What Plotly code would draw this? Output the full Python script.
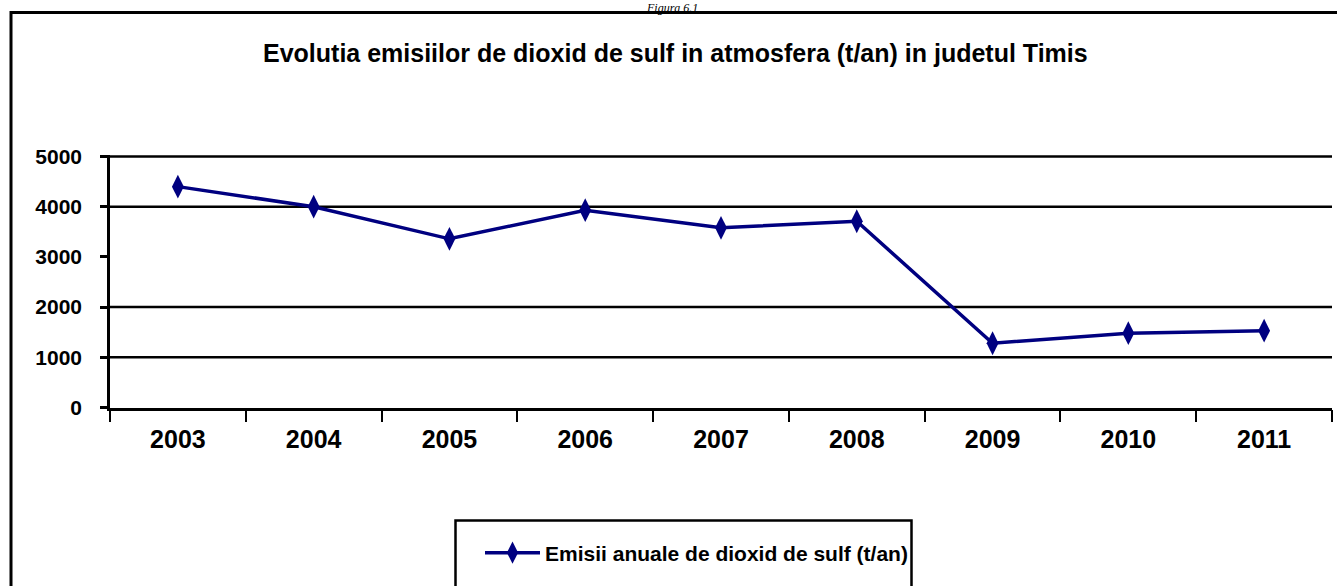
import plotly.graph_objects as go

W, H = 1337, 586

years = ["2003", "2004", "2005", "2006", "2007", "2008", "2009", "2010", "2011"]
emissions = [4400, 4000, 3360, 3930, 3580, 3710, 1280, 1480, 1530]
y_ticks = [0, 1000, 2000, 3000, 4000, 5000]
gridlines = [1000, 2000, 4000, 5000]

title = "Evolutia emisiilor de dioxid de sulf in atmosfera (t/an) in judetul Timis"
series_name = "Emisii anuale de dioxid de sulf (t/an)"
fig_label = "Figura 6.1"

def px_x(p):
    return p / W

def px_y(p):
    return 1 - p / H

NAVY = "#000080"
FONT = "Liberation Sans"

fig = go.Figure()
fig.add_trace(go.Scatter(
    x=years, y=emissions, mode="lines+markers", name=series_name,
    line=dict(color=NAVY, width=3.5),
    marker=dict(symbol="diamond-tall", size=17, color=NAVY),
))

shapes = []
for g in gridlines:
    shapes.append(dict(type="line", xref="x domain", yref="y", x0=0, x1=1, y0=g, y1=g,
                       line=dict(color="black", width=2.5), layer="below"))
# outer frame
shapes.append(dict(type="rect", xref="paper", yref="paper",
                   x0=px_x(11), x1=px_x(1360), y0=px_y(620), y1=px_y(12.5),
                   line=dict(color="black", width=3)))
# legend box
shapes.append(dict(type="rect", xref="paper", yref="paper",
                   x0=px_x(455.5), x1=px_x(911.5), y0=px_y(620), y1=px_y(520.5),
                   line=dict(color="black", width=2.5)))

fig.update_layout(
    width=W, height=H,
    margin=dict(l=0, r=0, t=0, b=0, pad=0, autoexpand=False),
    paper_bgcolor="white", plot_bgcolor="white",
    font=dict(family=FONT, color="black"),
    shapes=shapes,
    showlegend=True,
    legend=dict(xref="container", yref="container",
                x=px_x(480), y=px_y(553), xanchor="left", yanchor="middle",
                font=dict(family=FONT, size=21, color="black", weight="bold"),
                bgcolor="rgba(0,0,0,0)", itemwidth=55, borderwidth=0),
    annotations=[
        dict(text="<b>" + title + "</b>", xref="paper", yref="paper",
             x=px_x(675), y=px_y(53), xanchor="center", yanchor="middle",
             showarrow=False, font=dict(family=FONT, size=25, color="black")),
        dict(text="<i>" + fig_label + "</i>", xref="paper", yref="paper",
             x=px_x(672), y=px_y(0), xanchor="center", yanchor="top",
             showarrow=False, borderpad=0,
             font=dict(family="Liberation Serif", size=12, color="black")),
    ],
    xaxis=dict(
        type="category", domain=[px_x(110), px_x(1332)], range=[-0.5, 8.5],
        showline=True, linecolor="black", linewidth=2.5,
        ticks="outside", tickson="boundaries", ticklen=12, tickwidth=2,
        tickcolor="black", showgrid=False, zeroline=False,
        tickfont=dict(family=FONT, size=25, color="black", weight="bold"),
        ticklabelstandoff=8,
    ),
    yaxis=dict(
        domain=[px_y(407.5), px_y(154.5)], range=[0, 5040],
        tickvals=y_ticks, ticktext=[str(v) for v in y_ticks],
        showline=True, linecolor="black", linewidth=2.5,
        ticks="outside", ticklen=7, tickwidth=2.5, tickcolor="black",
        showgrid=False, zeroline=False,
        tickfont=dict(family=FONT, size=21, color="black", weight="bold"),
        ticklabelstandoff=14,
    ),
)

fig.write_html("out.html", config={"displayModeBar": False},
               post_script="document.body.style.margin='0';document.body.style.overflow='hidden';")
